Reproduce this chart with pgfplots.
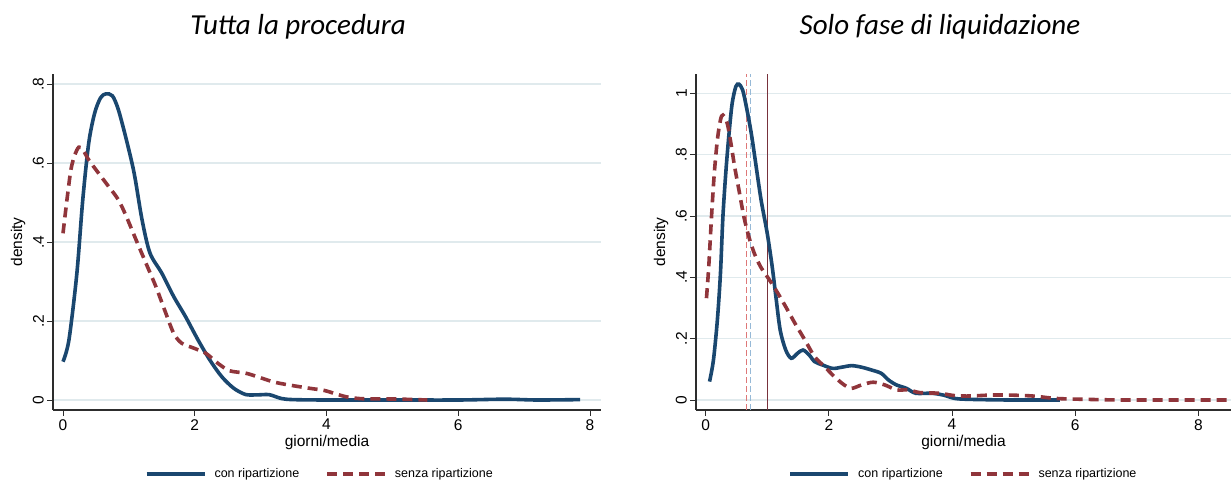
\documentclass[border=0pt]{standalone}
\usepackage{pgfplots}
\pgfplotsset{compat=1.18}
\usepackage{fontspec}
\setmainfont{Liberation Sans}
\newfontfamily\titlefont{Carlito}

\definecolor{statanavy}{RGB}{26,71,111}
\definecolor{statamaroon}{RGB}{144,53,59}
\definecolor{gridc}{RGB}{224,234,237}
\definecolor{axisc}{RGB}{45,45,45}
\definecolor{meanred}{RGB}{222,120,120}
\definecolor{meanblue}{RGB}{150,185,215}
\definecolor{medline}{RGB}{120,50,60}

% kernel density estimates, x = giorni/media
\pgfplotstableread{
x y
0.00 0.097
0.09 0.152
0.21 0.320
0.30 0.507
0.39 0.650
0.48 0.726
0.57 0.765
0.65 0.775
0.75 0.770
0.84 0.735
0.96 0.660
1.08 0.574
1.20 0.456
1.32 0.372
1.50 0.321
1.68 0.262
1.86 0.211
2.05 0.152
2.23 0.101
2.41 0.059
2.59 0.030
2.77 0.014
2.95 0.013
3.13 0.0135
3.31 0.004
3.49 0.001
4.00 0.000
5.00 0.000
6.00 0.000
6.70 0.002
7.20 0.000
7.85 0.001
}\tuttacon

\pgfplotstableread{
x y
0.00 0.422
0.06 0.507
0.12 0.583
0.18 0.621
0.24 0.640
0.30 0.634
0.39 0.608
0.54 0.574
0.69 0.541
0.84 0.507
0.96 0.465
1.11 0.405
1.26 0.346
1.41 0.287
1.56 0.220
1.68 0.169
1.80 0.144
1.99 0.131
2.17 0.118
2.35 0.093
2.53 0.074
2.77 0.068
2.95 0.059
3.19 0.046
3.43 0.038
3.73 0.030
3.97 0.024
4.15 0.015
4.33 0.007
4.57 0.003
5.05 0.0025
5.53 0.000
}\tuttasenza

\pgfplotstableread{
x y
0.063 0.060
0.126 0.130
0.19 0.261
0.24 0.413
0.28 0.598
0.33 0.750
0.38 0.870
0.43 0.967
0.49 1.022
0.54 1.030
0.60 1.011
0.66 0.957
0.74 0.870
0.82 0.761
0.90 0.652
1.00 0.543
1.08 0.435
1.14 0.337
1.21 0.228
1.30 0.163
1.39 0.136
1.49 0.152
1.58 0.163
1.68 0.147
1.77 0.125
1.90 0.114
2.06 0.103
2.21 0.107
2.37 0.112
2.53 0.107
2.69 0.098
2.85 0.087
2.97 0.065
3.10 0.049
3.26 0.038
3.41 0.022
3.67 0.022
3.86 0.016
4.05 0.005
4.30 0.002
4.93 0.000
5.75 0.000
}\liqcon

\pgfplotstableread{
x y
0.013 0.332
0.05 0.435
0.095 0.598
0.14 0.739
0.19 0.848
0.24 0.913
0.28 0.929
0.35 0.902
0.41 0.837
0.47 0.761
0.54 0.685
0.62 0.598
0.70 0.533
0.79 0.478
0.89 0.435
1.00 0.402
1.14 0.359
1.30 0.304
1.45 0.250
1.61 0.196
1.77 0.141
1.93 0.109
2.09 0.076
2.25 0.049
2.37 0.038
2.53 0.049
2.72 0.058
2.91 0.049
3.10 0.033
3.29 0.033
3.48 0.024
3.79 0.022
4.05 0.014
4.30 0.013
4.62 0.016
4.93 0.016
5.31 0.013
5.69 0.005
6.20 0.002
6.83 0.000
8.53 0.000
}\liqsenza

\pgfplotsset{
  stata/.style={
    scale only axis,
    axis x line*=bottom, axis y line*=left,
    axis line style={axisc, line width=1.1pt},
    every tick/.style={axisc, line width=0.9pt},
    major tick length=6pt, tick align=outside,
    ymajorgrids, grid style={gridc, line width=1.2pt},
    xtick={0,2,4,6,8},
    /pgf/number format/assume math mode=true,
    tick label style={font=\rmfamily\fontsize{15.5}{15.5}\selectfont},
    yticklabel style={rotate=90, anchor=south, inner sep=3pt},
    xticklabel style={inner sep=3pt},
    every axis x label/.style={at={(rel axis cs:0.5,0)}, yshift=-32pt, anchor=center, font=\fontsize{15.5}{15.5}\selectfont},
    every axis y label/.style={at={(rel axis cs:0,0.5)}, xshift=-35pt, rotate=90, anchor=center, font=\fontsize{15.5}{15.5}\selectfont},
    xlabel={giorni/media}, ylabel={density},
    legend columns=2,
    legend style={draw=none, fill=none, font=\fontsize{12.5}{12.5}\selectfont,
      anchor=center, /tikz/every even column/.append style={column sep=24pt},
      /tikz/every odd column/.append style={column sep=6pt}},
    legend image code/.code={\draw[#1] (0pt,0pt) -- (58pt,0pt);},
    con/.style={statanavy, line width=3.6pt, smooth, tension=0.5},
    senza/.style={statamaroon, line width=3.6pt, smooth, tension=0.5, dash pattern=on 10pt off 6pt},
  }
}

\begin{document}
\begin{tikzpicture}[x=1pt,y=1pt]
\useasboundingbox (0,0) rectangle (1231,481);

\node[font=\titlefont\itshape\fontsize{29}{29}\selectfont] at (298,454) {Tutta la procedura};
\node[font=\titlefont\itshape\fontsize{29}{29}\selectfont] at (940,454) {Solo fase di liquidazione};

\begin{axis}[stata,
  at={(53pt,71pt)}, anchor=south west,
  width=548pt, height=336pt,
  xmin=-0.152, xmax=8.167, ymin=-0.0253, ymax=0.8253,
  ytick={0,0.2,0.4,0.6,0.8}, yticklabels={0,.2,.4,.6,.8},
  legend style={at={(rel axis cs:0.487,-0.19)}},
]
\addplot[con] table {\tuttacon};
\addlegendentry{con ripartizione}
\addplot[senza] table {\tuttasenza};
\addlegendentry{senza ripartizione}
\end{axis}

\begin{axis}[stata,
  at={(696pt,71pt)}, anchor=south west,
  width=535pt, height=336pt,
  xmin=-0.157, xmax=8.53, ymin=-0.0326, ymax=1.063,
  ytick={0,0.2,0.4,0.6,0.8,1}, yticklabels={0,.2,.4,.6,.8,1},
  legend style={at={(rel axis cs:0.5,-0.19)}},
]
\addplot[meanred, line width=1pt, dash pattern=on 6pt off 3pt, forget plot] coordinates {(0.665,-0.0326) (0.665,1.063)};
\addplot[meanblue, line width=1pt, dash pattern=on 6pt off 3pt, forget plot] coordinates {(0.735,-0.0326) (0.735,1.063)};
\addplot[medline, line width=0.9pt, forget plot] coordinates {(1.0,-0.0326) (1.0,1.063)};
\addplot[con] table {\liqcon};
\addlegendentry{con ripartizione}
\addplot[senza] table {\liqsenza};
\addlegendentry{senza ripartizione}
\end{axis}
\end{tikzpicture}
\end{document}
